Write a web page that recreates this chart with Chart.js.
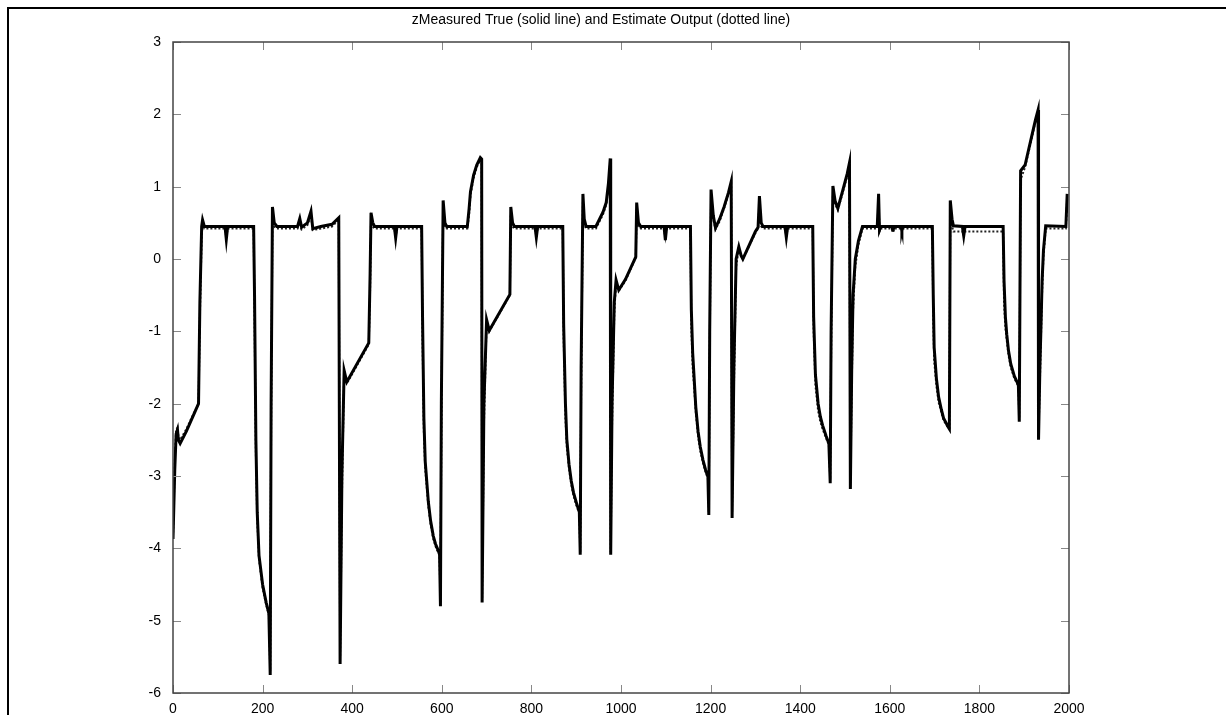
<!DOCTYPE html>
<html>
<head>
<meta charset="utf-8">
<script src="https://cdn.jsdelivr.net/npm/chart.js@4.4.1/dist/chart.umd.min.js"></script>
<style>
  html, body { margin: 0; padding: 0; background: #fff; }
  canvas { display: block; }
</style>
</head>
<body>
<canvas id="outputChart" width="1226" height="715"></canvas>
<script>
// sample index (x), true measured output and estimated output, one line per segment
var steps = [
    0, 4, 7, 10, 12, 16, 30, 45, 57, 60, 64, 66, 70, 116, 119, 122, 180,
    182, 185, 188, 192, 200, 208, 214, 217, 219, 222, 226, 232, 278, 283, 287, 300, 308, 312, 330, 355, 370,
    373, 377, 382, 388, 437, 440, 442, 446, 450, 494, 497, 500, 555,
    557, 560, 563, 570, 575, 581, 586, 590, 595, 597, 599, 603, 607, 611, 657, 661, 664, 671, 678, 686, 689,
    690, 694, 700, 706, 752, 754, 758, 762, 808, 811, 814, 870,
    872, 876, 879, 884, 889, 894, 900, 907, 909, 911, 915, 918, 922, 944, 952, 960, 967, 972, 976,
    977, 980, 985, 989, 995, 1010, 1033, 1035, 1039, 1044, 1096, 1099, 1102, 1155,
    1157, 1160, 1163, 1167, 1172, 1177, 1183, 1189, 1194, 1196, 1198, 1201, 1206, 1211, 1220, 1230, 1240, 1246,
    1248, 1252, 1257, 1263, 1268, 1272, 1300, 1306, 1309, 1313, 1317, 1366, 1369, 1372, 1428,
    1430, 1434, 1440, 1445, 1450, 1458, 1464, 1467, 1469, 1473, 1478, 1484, 1495, 1505, 1510,
    1512, 1515, 1518, 1523, 1530, 1539, 1572, 1575, 1577, 1580, 1605, 1607, 1609, 1625, 1627, 1629, 1695,
    1697, 1699, 1704, 1709, 1715, 1720, 1731, 1733, 1735, 1739, 1742, 1762, 1765, 1768, 1853,
    1855, 1858, 1861, 1865, 1870, 1878, 1887, 1889, 1892, 1902, 1915, 1925, 1931,
    1932, 1935, 1937, 1940, 1943, 1948, 1993, 1996
];
var trueOut = [
    -3.87, -2.9, -2.42, -2.36, -2.5, -2.55, -2.38, -2.17, -2.0, -0.6, 0.45, 0.54, 0.45, 0.45, 0.27, 0.45, 0.45,
    -0.5, -2.5, -3.5, -4.1, -4.5, -4.75, -4.9, -5.75, -2.0, 0.72, 0.5, 0.45, 0.45, 0.56, 0.44, 0.5, 0.66, 0.42, 0.45, 0.48, 0.57,
    -5.6, -3.0, -1.54, -1.7, -1.16, -0.2, 0.64, 0.5, 0.45, 0.45, 0.29, 0.45, 0.45,
    -0.8, -2.2, -2.8, -3.36, -3.62, -3.83, -3.94, -4.0, -4.08, -4.8, -2.0, 0.81, 0.5, 0.45, 0.45, 0.7, 0.93, 1.16, 1.3, 1.4, 1.38,
    -4.75, -2.0, -0.84, -0.99, -0.49, 0.72, 0.5, 0.45, 0.45, 0.3, 0.45, 0.45,
    -0.9, -2.0, -2.49, -2.84, -3.07, -3.23, -3.36, -3.5, -4.09, -1.5, 0.9, 0.55, 0.45, 0.45, 0.55, 0.65, 0.78, 1.05, 1.39,
    -4.09, -2.0, -0.6, -0.29, -0.43, -0.28, 0.03, 0.78, 0.5, 0.45, 0.45, 0.26, 0.45, 0.45,
    -0.7, -1.3, -1.62, -2.05, -2.38, -2.6, -2.78, -2.92, -3.01, -3.54, -1.0, 0.96, 0.6, 0.43, 0.55, 0.72, 0.92, 1.07,
    -3.58, -1.5, 0.0, 0.17, 0.05, 0.0, 0.38, 0.44, 0.87, 0.5, 0.45, 0.45, 0.3, 0.45, 0.45,
    -0.8, -1.6, -2.0, -2.18, -2.3, -2.45, -2.55, -3.1, -1.0, 1.01, 0.8, 0.7, 0.95, 1.18, 1.33,
    -3.18, -1.5, -0.5, 0.0, 0.25, 0.45, 0.45, 0.9, 0.4, 0.45, 0.45, 0.38, 0.45, 0.45, 0.39, 0.45, 0.45,
    -0.5, -1.22, -1.65, -1.91, -2.08, -2.2, -2.33, -2.35, 0.81, 0.55, 0.46, 0.45, 0.32, 0.45, 0.45,
    -0.3, -0.8, -1.04, -1.27, -1.45, -1.62, -1.74, -2.25, 1.22, 1.3, 1.65, 1.92, 2.06,
    -2.5, -1.5, -1.04, -0.3, 0.12, 0.46, 0.45, 0.9
];
var estOut = [
    -3.84, -2.8, -2.36, -2.33, -2.45, -2.5, -2.35, -2.15, -2.0, -0.8, 0.3, 0.5, 0.42, 0.42, 0.3, 0.42, 0.42,
    -0.8, -2.7, -3.6, -4.15, -4.55, -4.78, -4.92, -5.7, -2.3, 0.6, 0.45, 0.42, 0.42, 0.5, 0.41, 0.47, 0.6, 0.4, 0.42, 0.45, 0.54,
    -5.5, -3.3, -1.6, -1.72, -1.18, -0.4, 0.55, 0.45, 0.42, 0.42, 0.32, 0.42, 0.42,
    -1.1, -2.4, -2.9, -3.42, -3.67, -3.87, -3.97, -4.03, -4.1, -4.75, -2.3, 0.7, 0.45, 0.42, 0.42, 0.62, 0.88, 1.12, 1.27, 1.37, 1.35,
    -4.7, -2.3, -0.88, -1.0, -0.5, 0.62, 0.45, 0.42, 0.42, 0.32, 0.42, 0.42,
    -1.1, -2.2, -2.6, -2.9, -3.12, -3.27, -3.4, -3.52, -4.05, -1.8, 0.8, 0.5, 0.42, 0.42, 0.52, 0.62, 0.75, 1.0, 1.35,
    -4.05, -2.3, -0.75, -0.32, -0.44, -0.3, 0.02, 0.68, 0.45, 0.42, 0.42, 0.3, 0.42, 0.42,
    -0.95, -1.5, -1.75, -2.12, -2.45, -2.65, -2.82, -2.95, -3.03, -3.5, -1.3, 0.85, 0.55, 0.41, 0.52, 0.7, 0.9, 1.04,
    -3.5, -1.8, -0.1, 0.14, 0.04, 0.0, 0.36, 0.42, 0.78, 0.45, 0.42, 0.42, 0.32, 0.42, 0.42,
    -1.0, -1.75, -2.1, -2.25, -2.35, -2.48, -2.57, -3.05, -1.3, 0.9, 0.76, 0.68, 0.92, 1.15, 1.3,
    -3.1, -1.8, -0.7, -0.1, 0.2, 0.42, 0.42, 0.8, 0.38, 0.42, 0.42, 0.37, 0.42, 0.42, 0.38, 0.42, 0.42,
    -0.8, -1.4, -1.75, -1.98, -2.12, -2.23, -2.34, -2.34, 0.7, 0.45, 0.38, 0.38, 0.33, 0.38, 0.38,
    -0.6, -0.95, -1.12, -1.33, -1.5, -1.65, -1.76, -2.2, 1.1, 1.27, 1.62, 1.9, 2.03,
    -2.4, -1.7, -1.2, -0.45, 0.05, 0.42, 0.42, 0.85
];
var xTicks = [0, 200, 400, 600, 800, 1000, 1200, 1400, 1600, 1800, 2000];
var yTicks = [-6, -5, -4, -3, -2, -1, 0, 1, 2, 3];

function toPoints(ys) {
    return steps.map(function (x, i) { return { x: x, y: ys[i] }; });
}

// figure border plus matlab style box with inward ticks
var framePlugin = {
    id: 'frame',
    beforeDraw: function (chart) {
        var c = chart.ctx;
        c.save();
        c.fillStyle = '#fff';
        c.fillRect(0, 0, chart.width, chart.height);
        c.strokeStyle = '#000';
        c.lineWidth = 2;
        c.beginPath();
        c.moveTo(8, chart.height);
        c.lineTo(8, 8);
        c.lineTo(chart.width, 8);
        c.stroke();
        c.restore();
    },
    afterDraw: function (chart) {
        var c = chart.ctx, a = chart.chartArea;
        var xs = chart.scales.x, ys = chart.scales.y;
        var len = 8;
        c.save();
        c.strokeStyle = '#888';
        c.lineWidth = 1;
        c.beginPath();
        xTicks.forEach(function (v) {
            var px = Math.round(xs.getPixelForValue(v)) + 0.5;
            c.moveTo(px, a.bottom); c.lineTo(px, a.bottom - len);
            c.moveTo(px, a.top); c.lineTo(px, a.top + len);
        });
        yTicks.forEach(function (v) {
            var py = Math.round(ys.getPixelForValue(v)) + 0.5;
            c.moveTo(a.left, py); c.lineTo(a.left + len, py);
            c.moveTo(a.right, py); c.lineTo(a.right - len, py);
        });
        c.stroke();
        c.strokeStyle = '#444';
        c.lineWidth = 1.5;
        c.strokeRect(a.left, a.top, a.right - a.left, a.bottom - a.top);
        c.restore();
    }
};

Chart.defaults.font.family = '"Liberation Sans", Arial, Helvetica, sans-serif';
Chart.defaults.color = '#000';

const ctx = document.getElementById('outputChart').getContext('2d');
const outputChart = new Chart(ctx, {
    type: 'scatter',
    data: {
        datasets: [{
            label: 'zMeasured True',
            data: toPoints(trueOut),
            showLine: true,
            borderColor: '#000',
            borderWidth: 3,
            pointRadius: 0,
            tension: 0
        }, {
            label: 'Estimate Output',
            data: toPoints(estOut),
            showLine: true,
            borderColor: '#222',
            borderWidth: 2,
            borderDash: [2, 2],
            pointRadius: 0,
            tension: 0
        }]
    },
    options: {
        responsive: false,
        animation: false,
        devicePixelRatio: 1,
        layout: { padding: { left: 133, right: 157, top: 0, bottom: 0 } },
        plugins: {
            legend: { display: false },
            tooltip: { enabled: false },
            title: {
                display: true,
                text: 'zMeasured True (solid line) and Estimate Output (dotted line)',
                color: '#000',
                font: { size: 14, weight: 'normal' },
                padding: { top: 12, bottom: 13.2 }
            }
        },
        scales: {
            x: {
                type: 'linear',
                min: 0,
                max: 2000,
                grid: { display: false },
                border: { display: false },
                afterBuildTicks: function (scale) {
                    scale.ticks = xTicks.map(function (v) { return { value: v }; });
                },
                afterFit: function (scale) { scale.height = 22; },
                ticks: {
                    font: { size: 14 },
                    padding: 0,
                    maxRotation: 0,
                    callback: function (value) { return String(value); }
                }
            },
            y: {
                type: 'linear',
                min: -6,
                max: 3,
                grid: { display: false },
                border: { display: false },
                afterBuildTicks: function (scale) {
                    scale.ticks = yTicks.map(function (v) { return { value: v }; });
                },
                afterFit: function (scale) { scale.width = 40; },
                ticks: {
                    font: { size: 14 },
                    padding: 4,
                    callback: function (value) { return String(value); }
                }
            }
        }
    },
    plugins: [framePlugin]
});
</script>
</body>
</html>
